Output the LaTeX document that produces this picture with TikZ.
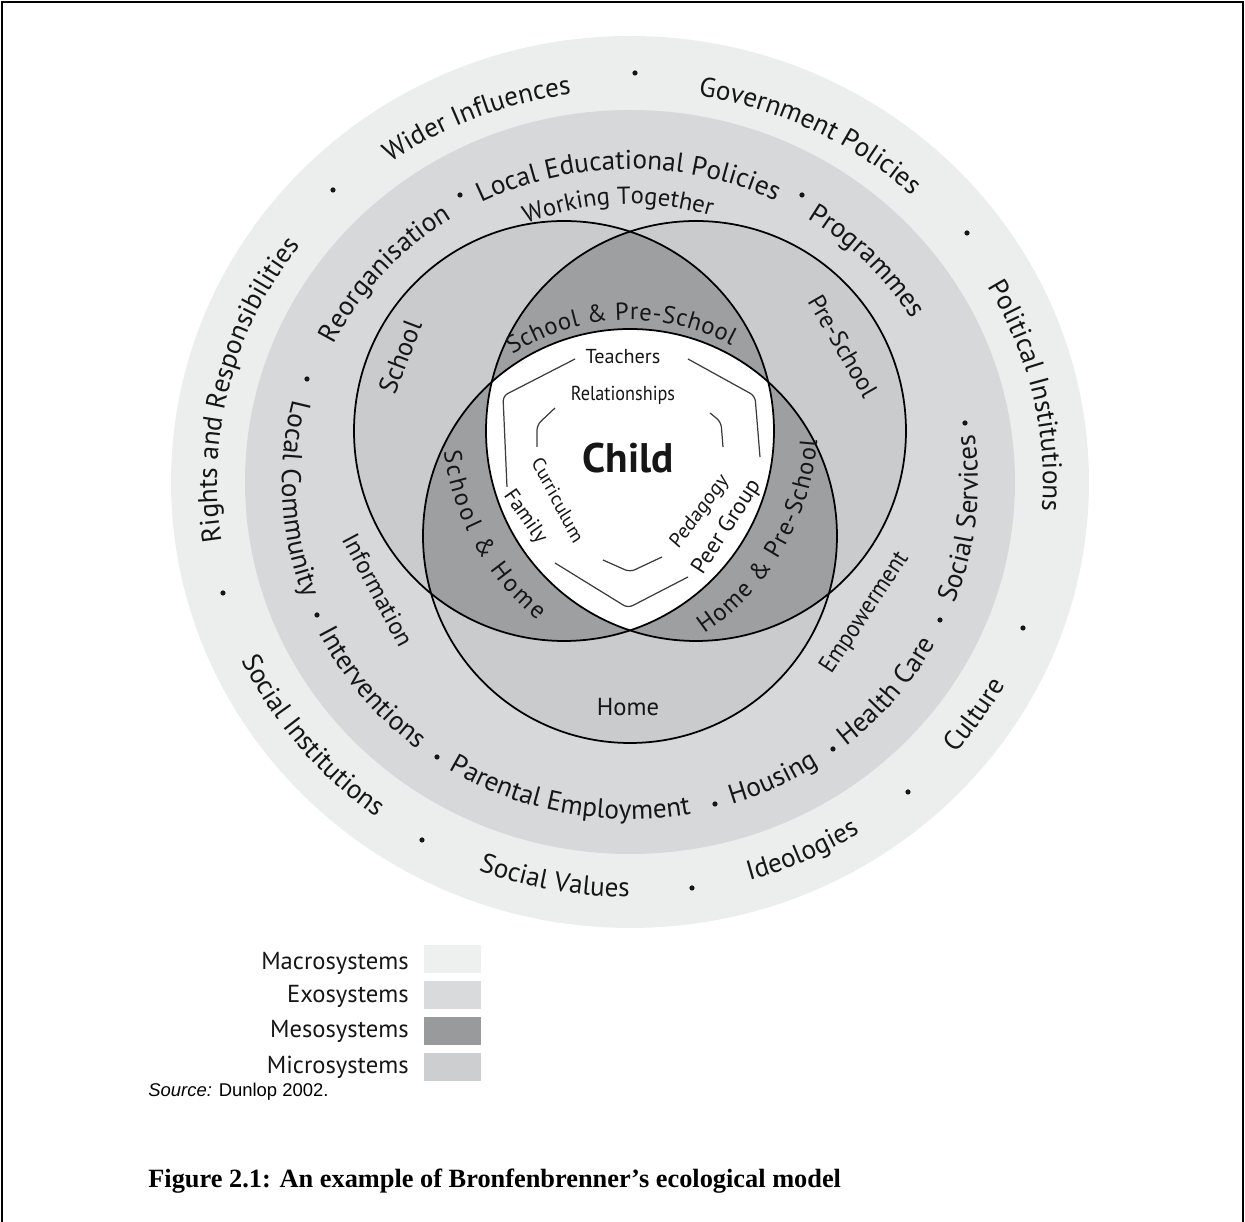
\documentclass[tikz,border=0pt]{standalone}
\usepackage{fontspec}
\usepackage{graphicx}
\setmainfont{PT Sans}
\newfontfamily\capfont{Liberation Serif}
\newfontfamily\srcfont{Liberation Sans}
\usetikzlibrary{decorations.text}
\definecolor{macro}{RGB}{236,238,238}
\definecolor{exo}{RGB}{214,216,217}
\definecolor{micro}{RGB}{201,203,205}
\definecolor{meso}{RGB}{157,159,161}
\definecolor{txt}{RGB}{22,22,22}
\definecolor{brkc}{RGB}{60,60,60}
\definecolor{legmacro}{RGB}{238,240,240}
\definecolor{legexo}{RGB}{216,218,219}
\definecolor{legmeso}{RGB}{152,154,156}
\definecolor{legmicro}{RGB}{204,206,208}
\newcommand\ringfont{\fontsize{15.5}{18}\selectfont\color{txt}}
\newcommand\vennfont{\fontsize{14}{16}\selectfont\color{txt}}
\newcommand\fsz[1]{\fontsize{#1}{#1}\selectfont}
\newcommand\toptext[5]{%
  \path[decorate,decoration={text along path,text align=center,text={|\ringfont|#5}}]
    ({#1+#2}:#3 and #4) arc[start angle={#1+#2},end angle={#1-#2},x radius=#3,y radius=#4];}
\newcommand\bottext[5]{%
  \path[decorate,decoration={text along path,text align=center,text={|\ringfont|#5}}]
    ({#1-#2}:#3 and #4) arc[start angle={#1-#2},end angle={#1+#2},x radius=#3,y radius=#4];}
\begin{document}
\begin{tikzpicture}[x=0.02cm,y=0.02cm,
  vennline/.style={draw=black,line width=1pt},
  brk/.style={draw=brkc,line width=0.7pt,rounded corners=3pt},
  lbl/.style={text=txt,inner sep=0pt},
  swatch/.style={draw=none}]
\useasboundingbox (-630,-740) rectangle (615,482);
% frame
\draw[line width=1pt] (-628,-740) -- (-628,480) -- (613,480) -- (613,-740);
% rings
\fill[macro] (0,0) ellipse[x radius=459,y radius=446];
\fill[exo] (0,0) ellipse[x radius=385,y radius=372];
% venn
\coordinate (S) at (-66,51);
\coordinate (P) at (66,51);
\coordinate (H) at (0,-54);
\fill[micro] (S) circle[radius=210];
\fill[micro] (P) circle[radius=210];
\fill[micro] (H) circle[radius=207];
\begin{scope}
  \clip (S) circle[radius=210];
  \fill[meso] (P) circle[radius=210];
  \fill[meso] (H) circle[radius=207];
\end{scope}
\begin{scope}
  \clip (P) circle[radius=210];
  \fill[meso] (H) circle[radius=207];
\end{scope}
\begin{scope}
  \clip (S) circle[radius=210];
  \clip (P) circle[radius=210];
  \fill[white] (H) circle[radius=207];
\end{scope}
\draw[vennline] (S) circle[radius=210];
\draw[vennline] (P) circle[radius=210];
\draw[vennline] (H) circle[radius=207];
% outer ring texts
\toptext{166}{40}{413}{392}{Rights and Responsibilities}
\toptext{112}{30}{413}{392}{Wider Influences}
\toptext{63.5}{30}{413}{392}{Government Policies}
\toptext{12.7}{35}{413}{392}{Political Institutions}
\bottext{219.5}{30}{430}{415}{Social Institutions}
\bottext{259.6}{25}{430}{415}{Social Values}
\bottext{294.3}{20}{430}{415}{Ideologies}
\bottext{325}{15}{430}{415}{Culture}
% exo ring texts
\toptext{138.4}{25}{330}{313}{Reorganisation}
\toptext{90.3}{40}{330}{313}{Local Educational Policies}
\toptext{44.2}{25}{330}{313}{Programmes}
\bottext{183}{25}{348}{337}{Local Community}
\bottext{219.4}{25}{348}{337}{Interventions}
\bottext{259.3}{35}{348}{337}{Parental Employment}
\bottext{295}{15}{348}{337}{Housing}
\bottext{320}{20}{348}{337}{Health Care}
\bottext{353.5}{20}{348}{337}{Social Services}
% dots
\foreach \p in {(-297,292),(5,409),(337,249),(393,-146),(278,-310),(62,-406),(-208,-358),(-407,-111),
  (-170,287),(172,287),(335,59),(310,-138),(203,-267),(85,-322),(-193,-275),(-313,-133),(-323,103)}
  \fill[txt] \p circle[radius=2.6];
% venn arc labels
\path[decorate,decoration={text along path,text align=center,text={|\vennfont|Working Together}}]
  (132.5:278) arc[start angle=132.5,end angle=52.5,radius=278];
\path[shift={(0,-54)},decorate,decoration={text along path,text align=fit to path,text={|\vennfont|School {\&} Pre-School}}]
  (123:216) arc[start angle=123,end angle=62,radius=216];
\path[shift={(70,62)},decorate,decoration={text along path,text align=fit to path,text={|\vennfont|School {\&} Home}}]
  (187:258) arc[start angle=187,end angle=231,radius=258];
\path[shift={(-70,62)},decorate,decoration={text along path,text align=fit to path,text={|\vennfont|Home {\&} Pre-School}}]
  (-56:258) arc[start angle=-56,end angle=-4.5,radius=258];
% venn straight labels
\node[lbl,font=\fsz{15},rotate=69] (school) at (-230,125) {School};
\node[lbl,font=\fsz{14},rotate=-60] (preschool) at (213,136) {Pre-School};
\node[lbl,font=\fsz{14}] (home) at (-2,-225) {Home};
\node[lbl,font=\fsz{14},rotate=-62] (info) at (-252,-108) {Information};
\node[lbl,font=\fsz{14},rotate=56.5,xscale=0.92] (empow) at (235,-131) {Empowerment};
% child area
\draw[brk] (-55,123) -- (-127,86) -- (-123,-5);
\draw[brk] (58,123) -- (125,86) -- (130,25);
\draw[brk] (-75,-81) -- (-2,-126) -- (58,-95);
\draw[brk] (-75,74) -- (-93,57) -- (-93,35);
\draw[brk] (80,69) -- (91,60) -- (93,35);
\draw[brk] (-27,-78) -- (0,-90) -- (32,-75);
\node[lbl,font=\fsz{11.5}] (teach) at (-7,125) {Teachers};
\node[lbl,font=\fsz{11.5},xscale=0.9] (relat) at (-7,87) {Relationships};
\node[lbl,font=\fsz{23.5}\bfseries] (child) at (-2,24) {Child};
\node[lbl,font=\fsz{11.5},xscale=0.9,rotate=-60] (curr) at (-72,-18) {Curriculum};
\node[lbl,font=\fsz{12},rotate=-55] (family) at (-105,-35) {Family};
\node[lbl,font=\fsz{12},xscale=0.92,rotate=51] (peda) at (70,-30) {Pedagogy};
\node[lbl,font=\fsz{13},rotate=57] (peer) at (97,-45) {Peer Group};
% legend
\node[lbl,font=\fsz{14},anchor=base east] (lmac) at (-221,-488) {Macrosystems};
\node[lbl,font=\fsz{14},anchor=base east] (lexo) at (-221,-521) {Exosystems};
\node[lbl,font=\fsz{14},anchor=base east] (lmes) at (-221,-556) {Mesosystems};
\node[lbl,font=\fsz{14},anchor=base east] (lmic) at (-221,-592) {Microsystems};
\fill[legmacro] (-206,-463) rectangle (-149,-491);
\fill[legexo] (-206,-499) rectangle (-149,-527);
\fill[legmeso] (-206,-535) rectangle (-149,-563);
\fill[legmicro] (-206,-571) rectangle (-149,-599);
% source and caption
\node[anchor=base west,inner sep=0pt,font=\srcfont\fsz{10.5}] (src) at (-482,-615) {\textit{Source:} Dunlop 2002.};
\node[anchor=base west,inner sep=0pt,font=\capfont\bfseries\fsz{15}] (cap) at (-482,-706) {Figure 2.1: An example of Bronfenbrenner’s ecological model};
\end{tikzpicture}
\end{document}
